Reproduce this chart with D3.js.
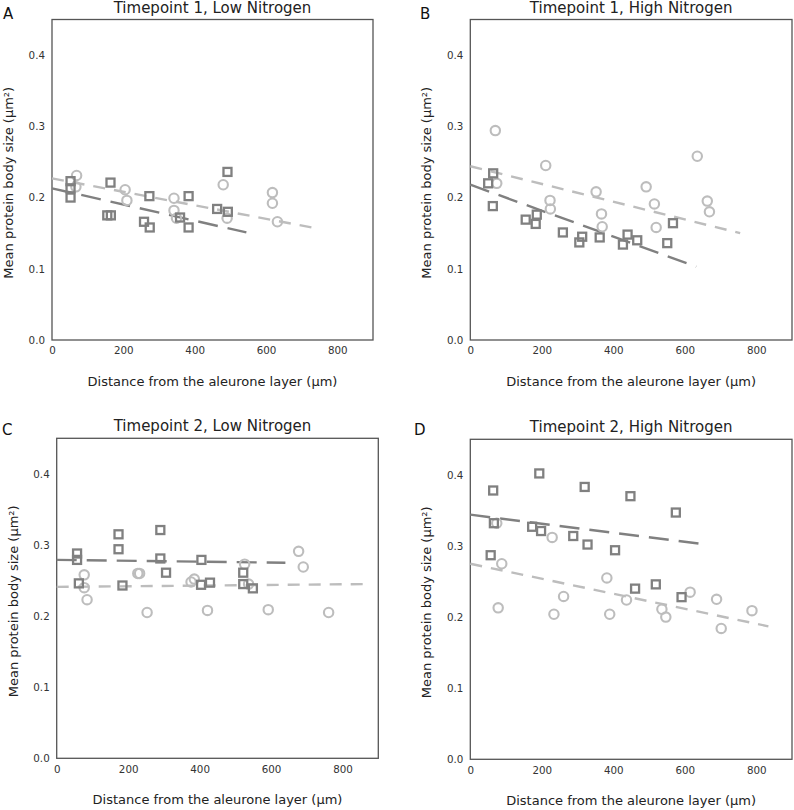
<!DOCTYPE html>
<html>
<head>
<meta charset="utf-8">
<script src="https://cdn.jsdelivr.net/npm/d3@7"></script>
<style>
  html, body { margin: 0; padding: 0; background: #fff; }
  svg { display: block; font-family: "DejaVu Sans", Verdana, sans-serif; }
</style>
</head>
<body>
<svg id="chart" width="794" height="810"></svg>
<script>
// ---- data ----
const panelLetters = ["A", "B", "C", "D"];
const panelTitles = ["Timepoint 1, Low Nitrogen", "Timepoint 1, High Nitrogen",
                     "Timepoint 2, Low Nitrogen", "Timepoint 2, High Nitrogen"];
const xLabel = "Distance from the aleurone layer (μm)";
const yLabel = "Mean protein body size (μm²)";
const xTicks = [0, 200, 400, 600, 800];
const yTicks = [0.0, 0.1, 0.2, 0.3, 0.4];

// squares (dark grey) and circles (light grey): [distance, size]
const aSquares = [[52,0.223],[52,0.213],[52,0.200],[164,0.221],[155,0.175],[165,0.175],[258,0.166],[274,0.158],[273,0.202],[359,0.172],[383,0.202],[383,0.158],[463,0.184],[493,0.180],[492,0.236]];
const aCircles = [[69,0.231],[67,0.215],[205,0.211],[210,0.196],[342,0.199],[342,0.182],[349,0.171],[480,0.218],[491,0.171],[618,0.207],[618,0.192],[632,0.166]];
const aDarkFit = [[0,0.213],[545,0.151]];
const aLightFit = [[0,0.227],[739,0.157]];

const bSquares = [[50,0.220],[64,0.234],[63,0.188],[155,0.169],[186,0.176],[183,0.163],[259,0.151],[305,0.137],[313,0.145],[362,0.144],[427,0.134],[440,0.148],[467,0.140],[551,0.136],[567,0.164]];
const bCircles = [[70,0.294],[74,0.220],[211,0.245],[223,0.196],[224,0.184],[352,0.208],[367,0.177],[369,0.159],[492,0.215],[515,0.191],[520,0.158],[635,0.258],[663,0.195],[669,0.180]];
const bDarkFit = [[0,0.218],[632,0.103]];
const bLightFit = [[0,0.244],[755,0.150]];

const cSquares = [[57,0.288],[57,0.279],[62,0.246],[173,0.315],[173,0.294],[184,0.243],[290,0.321],[290,0.281],[306,0.261],[405,0.279],[404,0.244],[429,0.247],[522,0.261],[522,0.245],[549,0.239]];
const cCircles = [[77,0.258],[77,0.240],[85,0.223],[227,0.260],[232,0.260],[253,0.205],[376,0.248],[385,0.252],[422,0.208],[526,0.273],[537,0.245],[592,0.209],[677,0.291],[690,0.269],[761,0.205]];
const cDarkFit = [[0,0.279],[640,0.275]];
const cLightFit = [[0,0.241],[860,0.245]];

const dSquares = [[64,0.378],[66,0.332],[57,0.287],[193,0.402],[173,0.327],[198,0.321],[320,0.383],[288,0.314],[328,0.302],[448,0.370],[405,0.294],[461,0.240],[519,0.246],[591,0.228],[575,0.347]];
const dCircles = [[74,0.332],[88,0.275],[78,0.213],[229,0.312],[261,0.229],[234,0.204],[382,0.255],[390,0.204],[437,0.224],[536,0.211],[547,0.200],[615,0.235],[689,0.225],[702,0.184],[788,0.209]];
const dDarkFit = [[0,0.344],[661,0.302]];
const dLightFit = [[0,0.275],[834,0.187]];

const xDomain = [0, 900];
const yDomain = [0, 0.45];

// ---- layout ----
const panels = [
  {letter: panelLetters[0], title: panelTitles[0], squares: aSquares, circles: aCircles, dark: aDarkFit, light: aLightFit,
   left: 52, right: 373, top: 19.5, bottom: 340, titleShift: 0, letterX: 3, letterY: 19},
  {letter: panelLetters[1], title: panelTitles[1], squares: bSquares, circles: bCircles, dark: bDarkFit, light: bLightFit,
   left: 470.3, right: 792, top: 19.5, bottom: 340, titleShift: 0, letterX: 420, letterY: 19},
  {letter: panelLetters[2], title: panelTitles[2], squares: cSquares, circles: cCircles, dark: cDarkFit, light: cLightFit,
   left: 56.7, right: 378.3, top: 438.3, bottom: 758.3, titleShift: -5, letterX: 2, letterY: 435},
  {letter: panelLetters[3], title: panelTitles[3], squares: dSquares, circles: dCircles, dark: dDarkFit, light: dLightFit,
   left: 470.3, right: 792, top: 439.3, bottom: 759.3, titleShift: 0, letterX: 414, letterY: 435}
];

const svg = d3.select("#chart");
svg.append("rect").attr("width", 794).attr("height", 810).attr("fill", "#fff");

const darkCol = "#808080";
const lightCol = "#bdbdbd";

panels.forEach(p => {
  const x = d3.scaleLinear().domain(xDomain).range([p.left, p.right]);
  const y = d3.scaleLinear().domain(yDomain).range([p.bottom, p.top]);
  const g = svg.append("g");

  // frame
  g.append("rect")
    .attr("x", p.left).attr("y", p.top)
    .attr("width", p.right - p.left).attr("height", p.bottom - p.top)
    .attr("fill", "none").attr("stroke", "#555").attr("stroke-width", 1.3);

  // axes (labels only, no tick marks)
  const xAxis = d3.axisBottom(x).tickValues(xTicks).tickSize(0).tickPadding(7).tickFormat(d3.format("d"));
  const gx = g.append("g").attr("transform", `translate(0,${p.bottom})`).call(xAxis);
  gx.select(".domain").remove();
  gx.selectAll("text").attr("font-size", 10.3).attr("fill", "#333").attr("font-family", "DejaVu Sans, sans-serif");

  const yAxis = d3.axisLeft(y).tickValues(yTicks).tickSize(0).tickPadding(7).tickFormat(d3.format(".1f"));
  const gy = g.append("g").attr("transform", `translate(${p.left},0)`).call(yAxis);
  gy.select(".domain").remove();
  gy.selectAll("text").attr("font-size", 10.3).attr("fill", "#333").attr("font-family", "DejaVu Sans, sans-serif");

  // axis titles
  g.append("text")
    .attr("x", (p.left + p.right) / 2).attr("y", p.bottom + 41.5)
    .attr("text-anchor", "middle").attr("dominant-baseline", "central")
    .attr("font-size", 13).attr("fill", "#222").text(xLabel);
  g.append("text")
    .attr("transform", `translate(${p.left - 43.7},${(p.top + p.bottom) / 2 + 3}) rotate(-90)`)
    .attr("text-anchor", "middle").attr("dominant-baseline", "central")
    .attr("font-size", 13).attr("fill", "#222").text(yLabel);

  // panel title and letter
  g.append("text")
    .attr("x", (p.left + p.right) / 2 + p.titleShift).attr("y", p.top - 7)
    .attr("text-anchor", "middle").attr("font-size", 15).attr("fill", "#222").text(p.title);
  g.append("text")
    .attr("x", p.letterX).attr("y", p.letterY)
    .attr("font-size", 15).attr("fill", "#111").text(p.letter);

  const line = d3.line().x(d => x(d[0])).y(d => y(d[1]));

  // fit lines
  g.append("path").datum(p.light).attr("d", line)
    .attr("fill", "none").attr("stroke", lightCol).attr("stroke-width", 2.4)
    .attr("stroke-dasharray", "12,9");
  g.append("path").datum(p.dark).attr("d", line)
    .attr("fill", "none").attr("stroke", darkCol).attr("stroke-width", 2.4)
    .attr("stroke-dasharray", "20,10");

  // circles
  g.selectAll("circle.pt").data(p.circles).join("circle")
    .attr("class", "pt")
    .attr("cx", d => x(d[0])).attr("cy", d => y(d[1])).attr("r", 4.7)
    .attr("fill", "none").attr("stroke", lightCol).attr("stroke-width", 2.1);

  // squares
  const s = 8;
  g.selectAll("rect.pt").data(p.squares).join("rect")
    .attr("class", "pt")
    .attr("x", d => x(d[0]) - s / 2).attr("y", d => y(d[1]) - s / 2)
    .attr("width", s).attr("height", s)
    .attr("fill", "none").attr("stroke", darkCol).attr("stroke-width", 2.3);
});
</script>
</body>
</html>
